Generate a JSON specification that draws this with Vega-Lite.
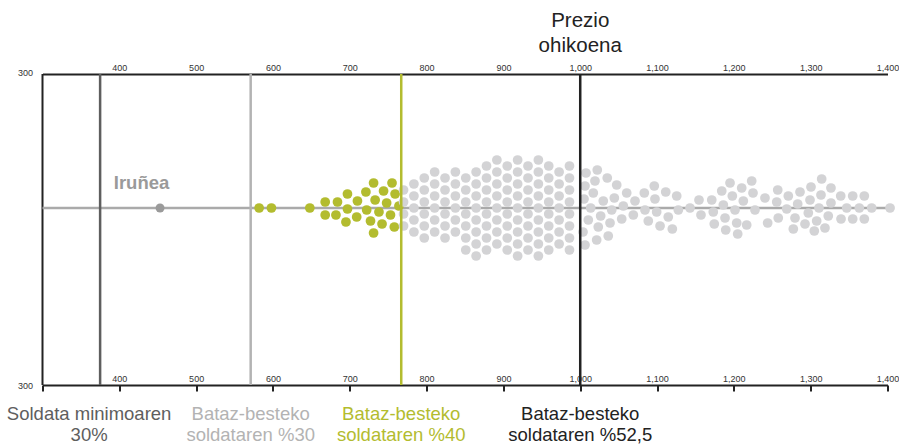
{
"$schema":"https://vega.github.io/schema/vega-lite/v6.json",
"width":845,"height":311,
"autosize":{"type":"none"},
"padding":{"left":42.5,"top":74,"right":11.5,"bottom":59},
"config":{"view":{"stroke":null},"font":"Liberation Sans"},
"datasets":{
"dots":[
{"p":731,"o":25,"g":"b40"},{"p":755,"o":25,"g":"b40"},{"p":697,"o":14,"g":"b40"},{"p":721,"o":16,"g":"b40"},{"p":744,"o":17,"g":"b40"},{"p":759,"o":14,"g":"b40"},{"p":668,"o":6,"g":"b40"},{"p":684,"o":6,"g":"b40"},{"p":710,"o":7,"g":"b40"},{"p":733,"o":8,"g":"b40"},{"p":748,"o":5,"g":"b40"},{"p":582,"o":0,"g":"b40"},{"p":598,"o":0,"g":"b40"},{"p":648,"o":0,"g":"b40"},{"p":697,"o":-1,"g":"b40"},{"p":722,"o":-2,"g":"b40"},{"p":764,"o":2,"g":"b40"},{"p":668,"o":-7,"g":"b40"},{"p":682,"o":-7,"g":"b40"},{"p":738,"o":-4,"g":"b40"},{"p":753,"o":-7,"g":"b40"},{"p":695,"o":-14,"g":"b40"},{"p":709,"o":-9,"g":"b40"},{"p":727,"o":-13,"g":"b40"},{"p":742,"o":-16,"g":"b40"},{"p":758,"o":-19,"g":"b40"},{"p":731,"o":-25,"g":"b40"},
{"p":770,"o":-18,"g":"gray"},{"p":770,"o":-6,"g":"gray"},{"p":770,"o":6,"g":"gray"},{"p":770,"o":18,"g":"gray"},
{"p":783.5,"o":-24,"g":"gray"},{"p":783.5,"o":-12,"g":"gray"},{"p":783.5,"o":0,"g":"gray"},{"p":783.5,"o":12,"g":"gray"},{"p":783.5,"o":24,"g":"gray"},
{"p":797,"o":-30,"g":"gray"},{"p":797,"o":-18,"g":"gray"},{"p":797,"o":-6,"g":"gray"},{"p":797,"o":6,"g":"gray"},{"p":797,"o":18,"g":"gray"},{"p":797,"o":30,"g":"gray"},
{"p":810.5,"o":-24,"g":"gray"},{"p":810.5,"o":-12,"g":"gray"},{"p":810.5,"o":0,"g":"gray"},{"p":810.5,"o":12,"g":"gray"},{"p":810.5,"o":24,"g":"gray"},{"p":810.5,"o":36,"g":"gray"},
{"p":824,"o":-30,"g":"gray"},{"p":824,"o":-18,"g":"gray"},{"p":824,"o":-6,"g":"gray"},{"p":824,"o":6,"g":"gray"},{"p":824,"o":18,"g":"gray"},{"p":824,"o":30,"g":"gray"},
{"p":837.5,"o":-24,"g":"gray"},{"p":837.5,"o":-12,"g":"gray"},{"p":837.5,"o":0,"g":"gray"},{"p":837.5,"o":12,"g":"gray"},{"p":837.5,"o":24,"g":"gray"},{"p":837.5,"o":36,"g":"gray"},
{"p":851,"o":-42,"g":"gray"},{"p":851,"o":-30,"g":"gray"},{"p":851,"o":-18,"g":"gray"},{"p":851,"o":-6,"g":"gray"},{"p":851,"o":6,"g":"gray"},{"p":851,"o":18,"g":"gray"},{"p":851,"o":30,"g":"gray"},
{"p":864.5,"o":-48,"g":"gray"},{"p":864.5,"o":-36,"g":"gray"},{"p":864.5,"o":-24,"g":"gray"},{"p":864.5,"o":-12,"g":"gray"},{"p":864.5,"o":0,"g":"gray"},{"p":864.5,"o":12,"g":"gray"},{"p":864.5,"o":24,"g":"gray"},{"p":864.5,"o":36,"g":"gray"},
{"p":878,"o":-42,"g":"gray"},{"p":878,"o":-30,"g":"gray"},{"p":878,"o":-18,"g":"gray"},{"p":878,"o":-6,"g":"gray"},{"p":878,"o":6,"g":"gray"},{"p":878,"o":18,"g":"gray"},{"p":878,"o":30,"g":"gray"},{"p":878,"o":42,"g":"gray"},
{"p":891.5,"o":-36,"g":"gray"},{"p":891.5,"o":-24,"g":"gray"},{"p":891.5,"o":-12,"g":"gray"},{"p":891.5,"o":0,"g":"gray"},{"p":891.5,"o":12,"g":"gray"},{"p":891.5,"o":24,"g":"gray"},{"p":891.5,"o":36,"g":"gray"},{"p":891.5,"o":48,"g":"gray"},
{"p":905,"o":-42,"g":"gray"},{"p":905,"o":-30,"g":"gray"},{"p":905,"o":-18,"g":"gray"},{"p":905,"o":-6,"g":"gray"},{"p":905,"o":6,"g":"gray"},{"p":905,"o":18,"g":"gray"},{"p":905,"o":30,"g":"gray"},{"p":905,"o":42,"g":"gray"},
{"p":918.5,"o":-48,"g":"gray"},{"p":918.5,"o":-36,"g":"gray"},{"p":918.5,"o":-24,"g":"gray"},{"p":918.5,"o":-12,"g":"gray"},{"p":918.5,"o":0,"g":"gray"},{"p":918.5,"o":12,"g":"gray"},{"p":918.5,"o":24,"g":"gray"},{"p":918.5,"o":36,"g":"gray"},{"p":918.5,"o":48,"g":"gray"},
{"p":932,"o":-42,"g":"gray"},{"p":932,"o":-30,"g":"gray"},{"p":932,"o":-18,"g":"gray"},{"p":932,"o":-6,"g":"gray"},{"p":932,"o":6,"g":"gray"},{"p":932,"o":18,"g":"gray"},{"p":932,"o":30,"g":"gray"},{"p":932,"o":42,"g":"gray"},
{"p":945.5,"o":-48,"g":"gray"},{"p":945.5,"o":-36,"g":"gray"},{"p":945.5,"o":-24,"g":"gray"},{"p":945.5,"o":-12,"g":"gray"},{"p":945.5,"o":0,"g":"gray"},{"p":945.5,"o":12,"g":"gray"},{"p":945.5,"o":24,"g":"gray"},{"p":945.5,"o":36,"g":"gray"},{"p":945.5,"o":48,"g":"gray"},
{"p":959,"o":-42,"g":"gray"},{"p":959,"o":-30,"g":"gray"},{"p":959,"o":-18,"g":"gray"},{"p":959,"o":-6,"g":"gray"},{"p":959,"o":6,"g":"gray"},{"p":959,"o":18,"g":"gray"},{"p":959,"o":30,"g":"gray"},{"p":959,"o":42,"g":"gray"},
{"p":972.5,"o":-36,"g":"gray"},{"p":972.5,"o":-24,"g":"gray"},{"p":972.5,"o":-12,"g":"gray"},{"p":972.5,"o":0,"g":"gray"},{"p":972.5,"o":12,"g":"gray"},{"p":972.5,"o":24,"g":"gray"},{"p":972.5,"o":36,"g":"gray"},
{"p":986,"o":-42,"g":"gray"},{"p":986,"o":-30,"g":"gray"},{"p":986,"o":-18,"g":"gray"},{"p":986,"o":-6,"g":"gray"},{"p":986,"o":6,"g":"gray"},{"p":986,"o":18,"g":"gray"},{"p":986,"o":30,"g":"gray"},{"p":986,"o":42,"g":"gray"},
{"p":1007.5,"o":35,"g":"gray"},{"p":1022.2,"o":38,"g":"gray"},{"p":1006.2,"o":22,"g":"gray"},{"p":1019.2,"o":27,"g":"gray"},{"p":1035.2,"o":30,"g":"gray"},{"p":1017,"o":15,"g":"gray"},{"p":1047.5,"o":23,"g":"gray"},{"p":1004.9,"o":9,"g":"gray"},{"p":1030,"o":7,"g":"gray"},{"p":1044.4,"o":10,"g":"gray"},{"p":1060.5,"o":15,"g":"gray"},{"p":1013.6,"o":0,"g":"gray"},{"p":1041,"o":-2,"g":"gray"},{"p":1056.1,"o":2,"g":"gray"},{"p":1071.3,"o":7,"g":"gray"},{"p":1026.6,"o":-8,"g":"gray"},{"p":1054,"o":-11,"g":"gray"},{"p":1010.5,"o":-12,"g":"gray"},{"p":1038.8,"o":-15,"g":"gray"},{"p":1023.5,"o":-19,"g":"gray"},{"p":1003.6,"o":-24,"g":"gray"},{"p":1036.5,"o":-28,"g":"gray"},{"p":1021.4,"o":-32,"g":"gray"},{"p":1006.2,"o":-37,"g":"gray"},{"p":1069.1,"o":-7,"g":"gray"},
{"p":1083.4,"o":15,"g":"gray"},{"p":1096.4,"o":22,"g":"gray"},{"p":1111.3,"o":16,"g":"gray"},{"p":1097.3,"o":9,"g":"gray"},{"p":1125.6,"o":12,"g":"gray"},{"p":1084.3,"o":-2,"g":"gray"},{"p":1099.5,"o":-4,"g":"gray"},{"p":1127.7,"o":-2,"g":"gray"},{"p":1114.6,"o":-9,"g":"gray"},{"p":1088.6,"o":-13,"g":"gray"},{"p":1103.9,"o":-18,"g":"gray"},{"p":1119.9,"o":-21,"g":"gray"},
{"p":1142.9,"o":0,"g":"gray"},{"p":1154.6,"o":8,"g":"gray"},{"p":1157.2,"o":-7,"g":"gray"},{"p":1171.2,"o":8,"g":"gray"},{"p":1173.2,"o":-4,"g":"gray"},{"p":1184.2,"o":17,"g":"gray"},{"p":1186.3,"o":3,"g":"gray"},{"p":1195,"o":25,"g":"gray"},{"p":1198,"o":12,"g":"gray"},{"p":1210.2,"o":20,"g":"gray"},{"p":1201.5,"o":-2,"g":"gray"},{"p":1212.3,"o":7,"g":"gray"},{"p":1223.2,"o":27,"g":"gray"},{"p":1224.9,"o":15,"g":"gray"},{"p":1188.5,"o":-10,"g":"gray"},{"p":1174.5,"o":-16,"g":"gray"},{"p":1203.7,"o":-15,"g":"gray"},{"p":1189.4,"o":-22,"g":"gray"},{"p":1205,"o":-26,"g":"gray"},{"p":1216.7,"o":-17,"g":"gray"},{"p":1227.5,"o":-2,"g":"gray"},{"p":1240.5,"o":10,"g":"gray"},{"p":1244,"o":-15,"g":"gray"},
{"p":1257.1,"o":18,"g":"gray"},{"p":1255.8,"o":6,"g":"gray"},{"p":1270.9,"o":12,"g":"gray"},{"p":1268.8,"o":-1,"g":"gray"},{"p":1257.8,"o":-10,"g":"gray"},{"p":1279.6,"o":-10,"g":"gray"},{"p":1277.4,"o":-21,"g":"gray"},{"p":1286.1,"o":16,"g":"gray"},{"p":1283.1,"o":4,"g":"gray"},{"p":1292.6,"o":-16,"g":"gray"},{"p":1296.9,"o":-5,"g":"gray"},{"p":1300.4,"o":21,"g":"gray"},{"p":1299.1,"o":8,"g":"gray"},{"p":1314.3,"o":29,"g":"gray"},{"p":1313.4,"o":13,"g":"gray"},{"p":1310.8,"o":0,"g":"gray"},{"p":1307.8,"o":-13,"g":"gray"},{"p":1304.7,"o":-23,"g":"gray"},{"p":1326.4,"o":20,"g":"gray"},{"p":1326.4,"o":5,"g":"gray"},{"p":1322.9,"o":-8,"g":"gray"},{"p":1318.6,"o":-20,"g":"gray"},
{"p":1339.1,"o":12,"g":"gray"},{"p":1346.9,"o":0,"g":"gray"},{"p":1339.5,"o":-11,"g":"gray"},{"p":1354.7,"o":12,"g":"gray"},{"p":1363.3,"o":0,"g":"gray"},{"p":1354.7,"o":-11,"g":"gray"},{"p":1369.8,"o":12,"g":"gray"},{"p":1379.4,"o":0,"g":"gray"},{"p":1369.8,"o":-11,"g":"gray"},{"p":1403.3,"o":0,"g":"gray"}
],
"lines":[
{"v":375,"k":"min","lab":["Soldata minimoaren","30%"]},
{"v":571,"k":"b30","lab":["Bataz-besteko","soldataren %30"]},
{"v":767,"k":"b40","lab":["Bataz-besteko","soldataren %40"]},
{"v":1000,"k":"b52","lab":["Bataz-besteko","soldataren %52,5"]}
]
},
"resolve":{"axis":{"x":"independent"}},
"layer":[
{
"data":{"values":[{"v":300}]},
"mark":{"type":"rule","color":"#222","strokeWidth":2},
"encoding":{"x":{"field":"v","type":"quantitative","scale":{"domain":[300,1400],"nice":false,"zero":false},
"axis":{"orient":"top","values":[300,400,500,600,700,800,900,1000,1100,1200,1300,1400],"format":",.0f","title":null,"grid":false,"domainColor":"#222","domainWidth":2,"ticks":true,"tickSize":0,"labelFontSize":9,"labelColor":"#333","labelPadding":2,"labelFlush":false,"labelOverlap":false,
"labelAlign":{"condition":{"test":"datum.value==300","value":"right"},"value":"center"},
"labelBaseline":{"condition":{"test":"datum.value==300","value":"middle"},"value":"bottom"},
"labelOffset":{"condition":{"test":"datum.value==300","value":-10},"value":0}}}}
},
{
"data":{"values":[{"v":0}]},
"mark":{"type":"rule","color":"#aaaaaa","strokeWidth":2.5},
"encoding":{"y":{"field":"v","type":"quantitative","scale":{"domain":[-177,134],"nice":false,"zero":false},"axis":null}}
},
{
"data":{"name":"dots"},
"mark":{"type":"circle","size":95,"opacity":1},
"encoding":{"x":{"field":"p","type":"quantitative","axis":null},"y":{"field":"o","type":"quantitative","axis":null},
"color":{"field":"g","type":"nominal","legend":null,"scale":{"domain":["min","b30","b40","b52","gray","iru"],"range":["#5e5e5e","#b3b3b3","#b3bc2f","#222222","#d3d3d5","#9a9a9a"]}}}
},
{
"data":{"values":[{"p":453,"o":0,"g":"iru","name":"Iruñea"}]},
"layer":[
{"mark":{"type":"circle","size":80,"opacity":1},
"encoding":{"x":{"field":"p","type":"quantitative","axis":null},"y":{"field":"o","type":"quantitative","axis":null},"color":{"field":"g","type":"nominal","legend":null}}},
{"mark":{"type":"text","fontSize":18.5,"fontWeight":"bold","align":"center","baseline":"alphabetic","dx":-18.5,"dy":-19},
"encoding":{"x":{"field":"p","type":"quantitative","axis":null},"y":{"field":"o","type":"quantitative","axis":null},"text":{"field":"name"},"color":{"field":"g","type":"nominal","legend":null}}}
]
},
{
"data":{"name":"lines"},
"mark":{"type":"rule","strokeWidth":2.5},
"encoding":{"x":{"field":"v","type":"quantitative",
"axis":{"orient":"bottom","values":[300,400,500,600,700,800,900,1000,1100,1200,1300,1400],"format":",.0f","title":null,"grid":false,"domainColor":"#222","domainWidth":2,"ticks":true,"tickSize":6,"tickWidth":2,"tickColor":"#222","labelFontSize":9,"labelColor":"#333","labelFlush":false,"labelOverlap":false,
"labelPadding":{"condition":{"test":"datum.value==300","value":-6},"value":-7.5},
"labelAlign":{"condition":{"test":"datum.value==300","value":"right"},"value":"center"},
"labelBaseline":{"condition":{"test":"datum.value==300","value":"middle"},"value":"bottom"},
"labelOffset":{"condition":{"test":"datum.value==300","value":-10},"value":0}}},
"color":{"field":"k","type":"nominal","legend":null}}
},
{
"data":{"name":"lines"},
"transform":[{"filter":"datum.k != 'min'"}],
"mark":{"type":"text","fontSize":18.5,"align":"center","baseline":"middle","lineHeight":21,"dy":29},
"encoding":{"x":{"field":"v","type":"quantitative","axis":null},"y":{"datum":-177,"type":"quantitative","axis":null},"text":{"field":"lab"},"color":{"field":"k","type":"nominal","legend":null}}
},
{
"data":{"name":"lines"},
"transform":[{"filter":"datum.k == 'min'"}],
"mark":{"type":"text","fontSize":18.5,"align":"center","baseline":"middle","lineHeight":21,"dy":29,"dx":-11},
"encoding":{"x":{"field":"v","type":"quantitative","axis":null},"y":{"datum":-177,"type":"quantitative","axis":null},"text":{"field":"lab"},"color":{"field":"k","type":"nominal","legend":null}}
},
{
"data":{"values":[{"v":1000,"t":["Prezio","ohikoena"]}]},
"mark":{"type":"text","fontSize":20.5,"align":"center","baseline":"alphabetic","lineHeight":25,"dy":-47,"color":"#222"},
"encoding":{"x":{"field":"v","type":"quantitative","axis":null},"y":{"datum":134,"type":"quantitative","axis":null},"text":{"field":"t"}}
}
]
}
